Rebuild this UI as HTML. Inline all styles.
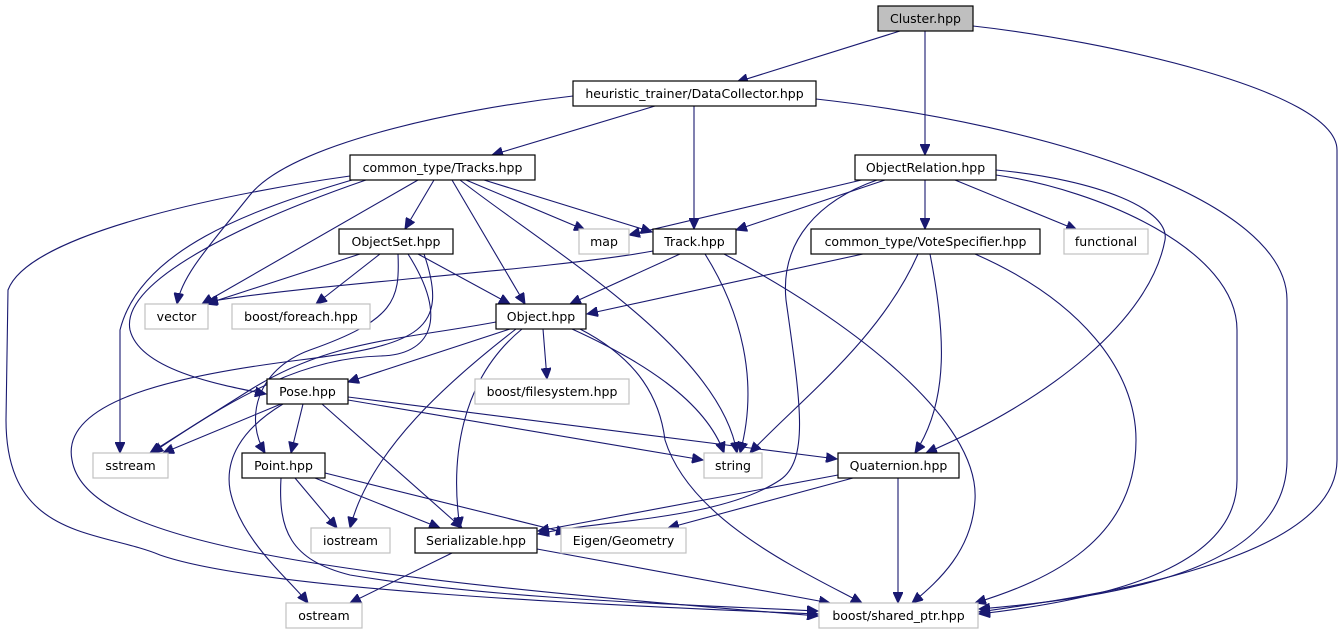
<!DOCTYPE html>
<html><head><meta charset="utf-8"><style>
html,body{margin:0;padding:0;background:#fff;}
svg{display:block;}
text{font-family:"DejaVu Sans","Liberation Sans",sans-serif;font-size:12.5px;fill:#000;text-anchor:middle;}
.n{fill:#fff;stroke:#000;stroke-width:1.2;}
.g{fill:#fff;stroke:#c0c0c0;stroke-width:1.2;}
path{fill:none;stroke:#191970;stroke-width:1.1;}
</style></head><body>
<svg width="1344" height="635" viewBox="0 0 1344 635" xmlns="http://www.w3.org/2000/svg">
<defs><marker id="a" markerUnits="userSpaceOnUse" markerWidth="12" markerHeight="10" refX="11" refY="5" orient="auto"><path d="M0,0 L11,5 L0,10 Z" style="fill:#191970;stroke:#191970;stroke-width:1"/></marker></defs>
<g marker-end="url(#a)">
<!-- Cluster -->
<path d="M900,31 L737,82"/>
<path d="M925,31 L925,155"/>
<path d="M973,26 C1100,40 1337,90 1337,150 L1337,460 C1337,560 1100,595 979,612"/>
<!-- DataCollector -->
<path d="M655,106 L492,155"/>
<path d="M694,106 L694,229"/>
<path d="M573,96 C450,110 290,145 250,195 C210,245 182,275 177,304"/>
<path d="M816,99 C1050,125 1287,200 1287,300 L1287,460 C1287,560 1150,595 979,609"/>
<!-- Tracks -->
<path d="M434,180 L405,229"/>
<path d="M466,180 L585,230"/>
<path d="M484,180 L652,232"/>
<path d="M452,180 L525,304"/>
<path d="M460,180 C550,250 720,350 737,453"/>
<path d="M418,180 L202,304"/>
<path d="M350,176 C250,190 30,230 8,290 L6,420 C6,540 100,530 160,555 C260,590 600,605 818,614"/>
<path d="M352,180 C250,210 140,250 120,330 L120,453"/>
<path d="M366,180 C250,220 120,280 130,330 C140,370 220,385 266,394"/>
<!-- ObjectSet -->
<path d="M360,254 L206,304"/>
<path d="M380,254 L316,304"/>
<path d="M418,254 L510,304"/>
<path d="M398,254 C400,300 395,320 310,350 C255,370 245,420 265,453"/>
<path d="M408,254 C450,320 430,355 380,356 C300,358 230,400 152,453"/>
<path d="M424,254 C450,330 420,345 300,360 C180,375 60,400 72,460 C85,540 300,575 818,616"/>
<!-- Object -->
<path d="M510,329 L348,382"/>
<path d="M543,329 L547,379"/>
<path d="M572,329 C640,360 705,400 724,453"/>
<path d="M580,329 C640,360 660,400 665,440 C690,520 800,570 862,603"/>
<path d="M516,329 C450,380 370,450 350,528"/>
<path d="M522,329 C460,380 450,460 460,528"/>
<path d="M496,322 C400,340 330,340 250,390 L150,453"/>
<!-- Track -->
<path d="M653,251 C550,270 300,285 207,302"/>
<path d="M680,254 L570,304"/>
<path d="M705,254 C740,310 760,380 740,453"/>
<path d="M724,254 C850,320 980,420 975,500 C972,550 940,580 912,603"/>
<!-- ObjectRelation -->
<path d="M870,178 L629,235"/>
<path d="M885,180 L736,230"/>
<path d="M925,180 L925,229"/>
<path d="M955,180 L1077,230"/>
<path d="M877,180 C820,200 780,240 786,300 C800,400 810,460 780,480 C720,520 600,520 538,534"/>
<path d="M996,170 C1100,180 1170,210 1165,240 C1150,320 1050,400 926,453"/>
<path d="M996,175 C1100,190 1237,250 1237,330 L1237,480 C1237,570 1100,600 979,614"/>
<!-- VoteSpecifier -->
<path d="M863,254 L587,314"/>
<path d="M918,254 C880,340 800,400 750,453"/>
<path d="M930,254 C945,330 950,400 915,453"/>
<path d="M975,254 C1080,300 1136,370 1136,440 C1136,540 1050,580 975,603"/>
<!-- Pose -->
<path d="M281,404 L163,453"/>
<path d="M303,404 L291,453"/>
<path d="M322,404 L462,528"/>
<path d="M283,404 C240,430 225,460 230,490 C240,540 290,580 308,603"/>
<path d="M348,400 L703,460"/>
<path d="M348,397 L837,459"/>
<!-- Point -->
<path d="M295,478 L337,528"/>
<path d="M315,478 L440,528"/>
<path d="M325,473 L567,533"/>
<path d="M281,478 C278,530 290,560 350,575 C500,600 700,605 818,611"/>
<!-- Quaternion -->
<path d="M838,475 L538,531"/>
<path d="M853,478 L668,528"/>
<path d="M898,478 L898,603"/>
<!-- Serializable -->
<path d="M452,553 L350,603"/>
<path d="M537,549 L830,603"/>
</g>
<!-- nodes -->
<rect x="878" y="6" width="95" height="25" style="fill:#bfbfbf;stroke:#000;stroke-width:1.2"/><text x="925.5" y="23">Cluster.hpp</text>
<rect class="n" x="573" y="81" width="243" height="25"/><text x="694.5" y="98">heuristic_trainer/DataCollector.hpp</text>
<rect class="n" x="350" y="155" width="185" height="25"/><text x="442.5" y="172">common_type/Tracks.hpp</text>
<rect class="n" x="855" y="155" width="141" height="25"/><text x="925.5" y="172">ObjectRelation.hpp</text>
<rect class="n" x="339" y="229" width="114" height="25"/><text x="396" y="246">ObjectSet.hpp</text>
<rect class="g" x="579" y="229" width="50" height="25"/><text x="604" y="246">map</text>
<rect class="n" x="653" y="229" width="83" height="25"/><text x="694.5" y="246">Track.hpp</text>
<rect class="n" x="811" y="229" width="229" height="25"/><text x="925.5" y="246">common_type/VoteSpecifier.hpp</text>
<rect class="g" x="1064" y="229" width="84" height="25"/><text x="1106" y="246">functional</text>
<rect class="g" x="145" y="304" width="63" height="25"/><text x="176.5" y="321">vector</text>
<rect class="g" x="232" y="304" width="138" height="25"/><text x="301" y="321">boost/foreach.hpp</text>
<rect class="n" x="496" y="304" width="90" height="25"/><text x="541" y="321">Object.hpp</text>
<rect class="n" x="267" y="379" width="81" height="25"/><text x="307.5" y="396">Pose.hpp</text>
<rect class="g" x="475" y="379" width="154" height="25"/><text x="552" y="396">boost/filesystem.hpp</text>
<rect class="g" x="93" y="453" width="75" height="25"/><text x="130.5" y="470">sstream</text>
<rect class="n" x="242" y="453" width="83" height="25"/><text x="283.5" y="470">Point.hpp</text>
<rect class="g" x="704" y="453" width="58" height="25"/><text x="733" y="470">string</text>
<rect class="n" x="838" y="453" width="121" height="25"/><text x="898.5" y="470">Quaternion.hpp</text>
<rect class="g" x="311" y="528" width="79" height="25"/><text x="350.5" y="545">iostream</text>
<rect class="n" x="415" y="528" width="122" height="25"/><text x="476" y="545">Serializable.hpp</text>
<rect class="g" x="561" y="528" width="125" height="25"/><text x="623.5" y="545">Eigen/Geometry</text>
<rect class="g" x="286" y="603" width="76" height="25"/><text x="324" y="620">ostream</text>
<rect class="g" x="819" y="603" width="159" height="25"/><text x="898.5" y="620">boost/shared_ptr.hpp</text>
</svg>
</body></html>
